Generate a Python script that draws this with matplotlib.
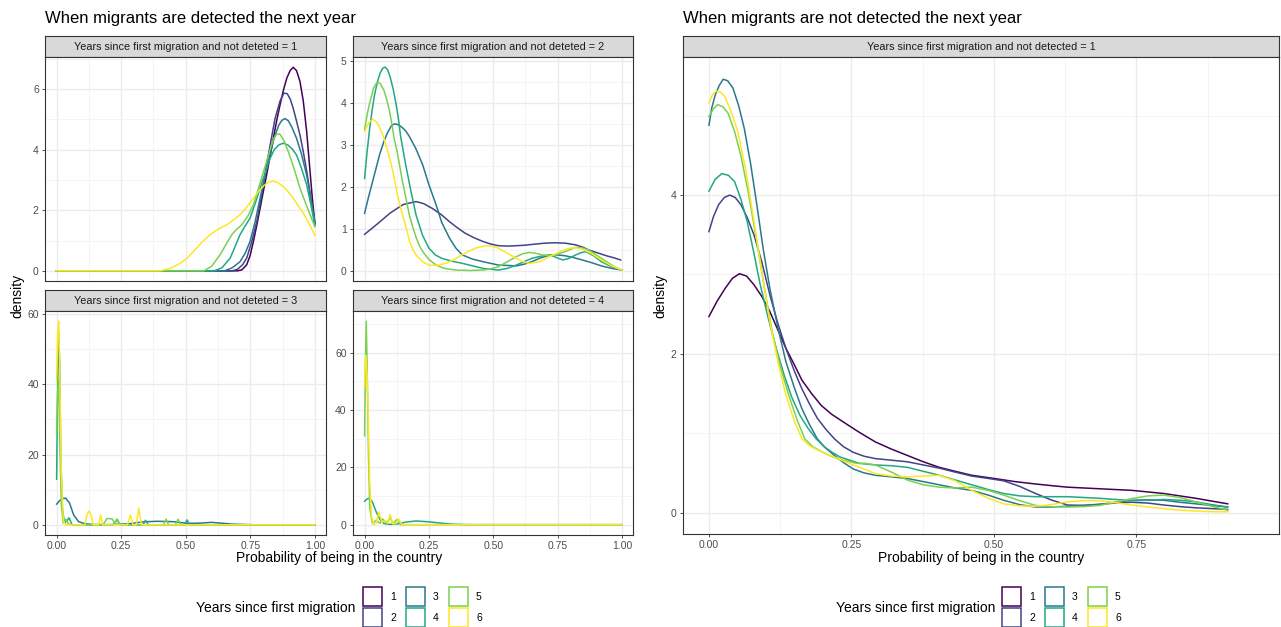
import matplotlib
matplotlib.use("Agg")
import matplotlib.pyplot as plt
from matplotlib.patches import Rectangle

plt.rcParams['font.family'] = ['Liberation Sans', 'DejaVu Sans']

W, H = 1281, 627

groups = ['1', '2', '3', '4', '5', '6']
colors = ['#440154', '#414487', '#2A788E', '#22A884', '#7AD151', '#FDE725']

left_title = "When migrants are detected the next year"
right_title = "When migrants are not detected the next year"
strip_left = ["Years since first migration and not deteted = 1",
              "Years since first migration and not deteted = 2",
              "Years since first migration and not deteted = 3",
              "Years since first migration and not deteted = 4"]
strip_right = "Years since first migration and not detected = 1"
xlab = "Probability of being in the country"
ylab = "density"
legend_title = "Years since first migration"

# ---- detected, not deteted = 1
d1_x1 = [0, 0.70, 0.717, 0.736, 0.749, 0.762, 0.775, 0.788, 0.80, 0.813, 0.826, 0.839, 0.852, 0.865, 0.878, 0.891, 0.904, 0.916, 0.929, 0.942, 0.955, 0.968, 0.98, 0.99, 1.0]
d1_y1 = [0, 0, 0.03, 0.2, 0.5, 0.97, 1.5, 2.07, 2.6, 3.16, 3.75, 4.37, 4.95, 5.47, 5.95, 6.35, 6.6, 6.71, 6.6, 6.25, 5.6, 4.6, 3.4, 2.4, 1.55]
d1_x2 = [0, 0.68, 0.70, 0.72, 0.736, 0.755, 0.775, 0.795, 0.813, 0.83, 0.846, 0.865, 0.88, 0.893, 0.905, 0.916, 0.93, 0.943, 0.955, 0.97, 0.985, 1.0]
d1_y2 = [0, 0, 0.05, 0.2, 0.42, 0.95, 1.63, 2.55, 3.5, 4.3, 5.03, 5.6, 5.86, 5.84, 5.65, 5.36, 4.9, 4.45, 3.93, 3.2, 2.35, 1.55]
d1_x3 = [0, 0.65, 0.68, 0.71, 0.73, 0.749, 0.768, 0.788, 0.807, 0.826, 0.843, 0.86, 0.872, 0.884, 0.897, 0.91, 0.929, 0.948, 0.968, 0.984, 1.0]
d1_y3 = [0, 0, 0.1, 0.3, 0.58, 0.97, 1.6, 2.4, 3.15, 3.82, 4.4, 4.8, 4.96, 5.02, 4.95, 4.75, 4.37, 3.85, 3.16, 2.4, 1.6]
d1_x4 = [0, 0.61, 0.64, 0.672, 0.69, 0.71, 0.73, 0.749, 0.768, 0.788, 0.807, 0.826, 0.843, 0.86, 0.878, 0.895, 0.912, 0.929, 0.948, 0.968, 0.984, 1.0]
d1_y4 = [0, 0, 0.1, 0.42, 0.78, 1.19, 1.48, 1.74, 2.2, 2.73, 3.22, 3.7, 4.0, 4.15, 4.21, 4.15, 4.02, 3.82, 3.38, 2.84, 2.2, 1.5]
d1_x5 = [0, 0.57, 0.60, 0.633, 0.655, 0.678, 0.697, 0.717, 0.74, 0.762, 0.788, 0.813, 0.828, 0.84, 0.853, 0.865, 0.88, 0.897, 0.92, 0.942, 0.97, 1.0]
d1_y5 = [0, 0, 0.15, 0.53, 0.86, 1.19, 1.37, 1.52, 1.8, 2.18, 2.9, 3.6, 4.05, 4.35, 4.52, 4.5, 4.3, 3.93, 3.35, 2.73, 2.1, 1.45]
d1_x6 = [0, 0.40, 0.44, 0.479, 0.505, 0.53, 0.56, 0.594, 0.625, 0.659, 0.685, 0.71, 0.736, 0.762, 0.782, 0.801, 0.82, 0.839, 0.858, 0.878, 0.897, 0.916, 0.935, 0.955, 0.978, 1.0]
d1_y6 = [0, 0, 0.08, 0.25, 0.42, 0.64, 0.92, 1.19, 1.37, 1.52, 1.68, 1.85, 2.1, 2.4, 2.62, 2.8, 2.92, 2.96, 2.9, 2.78, 2.6, 2.4, 2.15, 1.9, 1.55, 1.17]

# ---- detected, not deteted = 2
d2_x2 = [0, 0.05, 0.1, 0.15, 0.2, 0.23, 0.265, 0.3, 0.33, 0.36, 0.39, 0.425, 0.46, 0.49, 0.52, 0.555, 0.59, 0.62, 0.65, 0.7, 0.74, 0.78, 0.82, 0.85, 0.87, 0.9, 0.94, 0.97, 0.995]
d2_y2 = [0.87, 1.12, 1.38, 1.58, 1.65, 1.6, 1.48, 1.33, 1.17, 1.03, 0.9, 0.79, 0.7, 0.64, 0.6, 0.59, 0.6, 0.61, 0.63, 0.66, 0.67, 0.66, 0.62, 0.56, 0.5, 0.44, 0.36, 0.31, 0.26]
d2_x3 = [0, 0.015, 0.03, 0.045, 0.058, 0.075, 0.09, 0.104, 0.116, 0.13, 0.145, 0.16, 0.174, 0.2, 0.226, 0.25, 0.278, 0.3, 0.33, 0.355, 0.38, 0.42, 0.46, 0.52, 0.59, 0.62, 0.65, 0.68, 0.72, 0.75, 0.78, 0.81, 0.846, 0.88, 0.92, 0.96, 1.0]
d2_y3 = [1.37, 1.75, 2.1, 2.45, 2.76, 3.08, 3.3, 3.45, 3.5, 3.48, 3.42, 3.33, 3.2, 2.9, 2.52, 2.05, 1.57, 1.15, 0.78, 0.54, 0.38, 0.28, 0.22, 0.14, 0.12, 0.16, 0.22, 0.3, 0.38, 0.38, 0.36, 0.32, 0.26, 0.2, 0.12, 0.06, 0.02]
d2_x4 = [0, 0.01, 0.02, 0.03, 0.039, 0.05, 0.06, 0.07, 0.08, 0.09, 0.1, 0.112, 0.123, 0.132, 0.14, 0.15, 0.16, 0.18, 0.2, 0.225, 0.25, 0.275, 0.30, 0.34, 0.38, 0.42, 0.46, 0.52, 0.555, 0.59, 0.62, 0.65, 0.685, 0.72, 0.745, 0.77, 0.795, 0.82, 0.84, 0.86, 0.89, 0.92, 0.96, 1.0]
d2_y4 = [2.2, 2.85, 3.4, 3.85, 4.2, 4.5, 4.7, 4.82, 4.85, 4.78, 4.6, 4.3, 3.95, 3.6, 3.2, 2.86, 2.52, 1.9, 1.33, 0.85, 0.54, 0.38, 0.30, 0.23, 0.18, 0.12, 0.06, 0.02, 0.06, 0.14, 0.22, 0.30, 0.35, 0.38, 0.32, 0.26, 0.3, 0.38, 0.43, 0.46, 0.36, 0.22, 0.1, 0.02]
d2_x5 = [0, 0.01, 0.02, 0.035, 0.044, 0.052, 0.062, 0.075, 0.086, 0.097, 0.106, 0.115, 0.126, 0.136, 0.145, 0.155, 0.165, 0.174, 0.187, 0.2, 0.213, 0.226, 0.25, 0.278, 0.31, 0.355, 0.41, 0.46, 0.49, 0.52, 0.555, 0.59, 0.615, 0.64, 0.665, 0.69, 0.715, 0.74, 0.78, 0.82, 0.845, 0.87, 0.905, 0.94, 0.97, 1.0]
d2_y5 = [3.36, 3.72, 4.0, 4.35, 4.45, 4.49, 4.45, 4.3, 4.08, 3.8, 3.5, 3.15, 2.85, 2.52, 2.2, 1.9, 1.6, 1.33, 1.05, 0.8, 0.6, 0.46, 0.27, 0.14, 0.06, 0.02, 0.01, 0.02, 0.05, 0.1, 0.22, 0.34, 0.41, 0.44, 0.42, 0.38, 0.37, 0.38, 0.46, 0.56, 0.55, 0.5, 0.36, 0.22, 0.1, 0.02]
d2_x6 = [0, 0.016, 0.032, 0.05, 0.071, 0.09, 0.1, 0.11, 0.12, 0.13, 0.142, 0.155, 0.165, 0.175, 0.187, 0.2, 0.225, 0.25, 0.28, 0.317, 0.35, 0.39, 0.43, 0.47, 0.495, 0.52, 0.555, 0.59, 0.615, 0.64, 0.68, 0.72, 0.76, 0.795, 0.82, 0.846, 0.88, 0.92, 0.96, 1.0]
d2_y6 = [3.32, 3.52, 3.61, 3.52, 3.24, 2.85, 2.62, 2.37, 2.06, 1.75, 1.45, 1.17, 0.94, 0.7, 0.52, 0.38, 0.22, 0.14, 0.13, 0.18, 0.28, 0.42, 0.54, 0.6, 0.59, 0.54, 0.42, 0.30, 0.22, 0.18, 0.22, 0.34, 0.46, 0.54, 0.55, 0.52, 0.42, 0.26, 0.12, 0.02]

# ---- detected, not deteted = 3
d3_x3 = [0, 0.012, 0.025, 0.035, 0.05, 0.066, 0.085, 0.11, 0.14, 0.2, 0.28, 0.32, 0.35, 0.39, 0.45, 0.51, 0.56, 0.6, 0.68, 0.77, 1.0]
d3_y3 = [5.9, 6.9, 7.5, 7.6, 6.2, 2.8, 0.9, 0.3, 0.1, 0.05, 0.3, 0.7, 0.9, 1.0, 0.9, 0.4, 0.5, 0.7, 0.2, 0.0, 0.0]
d3_x4 = [0, 0.004, 0.008, 0.012, 0.016, 0.022, 0.03, 0.04, 0.048, 0.06, 0.22, 0.234, 0.245, 0.335, 0.344, 0.355, 0.495, 0.505, 0.515, 1.0]
d3_y4 = [13, 40, 55, 45, 20, 5, 0.5, 1.2, 2.0, 0, 0, 1.6, 0, 0, 1.3, 0, 0, 1.4, 0, 0]
d3_x5 = [0, 0.004, 0.008, 0.012, 0.018, 0.025, 0.035, 0.045, 0.06, 0.18, 0.195, 0.215, 0.225, 0.235, 0.245, 0.414, 0.424, 0.434, 0.46, 0.47, 0.48, 1.0]
d3_y5 = [26, 38, 41, 25, 6, 0.5, 1.6, 0.3, 0, 0, 1.8, 1.7, 0.4, 1.5, 0, 0, 1.6, 0, 0, 1.6, 0, 0]
d3_x6 = [0, 0.004, 0.008, 0.012, 0.018, 0.026, 0.035, 0.11, 0.118, 0.125, 0.133, 0.142, 0.163, 0.17, 0.178, 0.274, 0.286, 0.296, 0.308, 0.318, 0.328, 1.0]
d3_y6 = [41, 55, 58, 45, 15, 1, 0, 0, 3.0, 3.9, 3.0, 0, 0, 2.8, 0, 0, 2.8, 0, 0, 4.7, 0, 0]

# ---- detected, not deteted = 4
d4_x4 = [0, 0.01, 0.02, 0.03, 0.045, 0.06, 0.075, 0.1, 0.13, 0.16, 0.2, 0.25, 0.3, 0.35, 0.4, 1.0]
d4_y4 = [8.2, 9.0, 9.2, 8.0, 4.5, 1.8, 0.4, 0.1, 0.3, 0.9, 1.3, 1.0, 0.5, 0.15, 0.02, 0]
d4_x5 = [0, 0.003, 0.0065, 0.01, 0.015, 0.02, 0.03, 0.045, 0.06, 0.07, 0.085, 0.1, 0.11, 0.125, 0.14, 1.0]
d4_y5 = [31, 55, 71, 55, 25, 6, 0.5, 1.5, 0.5, 2.0, 0.5, 2.5, 0.3, 1.8, 0, 0]
d4_x6 = [0, 0.003, 0.005, 0.01, 0.015, 0.02, 0.027, 0.035, 0.045, 0.056, 0.068, 0.08, 0.09, 0.099, 0.11, 0.122, 0.132, 0.145, 1.0]
d4_y6 = [48, 57, 59, 52, 35, 15, 3, 0, 0.5, 4.4, 0.8, 1.5, 0.5, 3.6, 0.3, 0.5, 2.1, 0, 0]

# ---- not detected, not detected = 1
n_x1 = [0, 0.014, 0.028, 0.041, 0.0535, 0.066, 0.079, 0.093, 0.107, 0.121, 0.135, 0.15, 0.163, 0.18, 0.197, 0.215, 0.236, 0.264, 0.292, 0.32, 0.348, 0.376, 0.404, 0.432, 0.461, 0.5, 0.537, 0.573, 0.6, 0.629, 0.685, 0.742, 0.77, 0.798, 0.826, 0.854, 0.882, 0.91]
n_y1 = [2.47, 2.66, 2.82, 2.95, 3.01, 2.98, 2.87, 2.72, 2.53, 2.3, 2.07, 1.86, 1.67, 1.5, 1.35, 1.24, 1.14, 1.01, 0.89, 0.8, 0.72, 0.64, 0.57, 0.52, 0.47, 0.43, 0.39, 0.36, 0.34, 0.32, 0.3, 0.28, 0.26, 0.24, 0.21, 0.18, 0.145, 0.11]
n_x2 = [0, 0.008, 0.017, 0.027, 0.0365, 0.046, 0.056, 0.067, 0.079, 0.093, 0.107, 0.121, 0.135, 0.15, 0.163, 0.177, 0.19, 0.205, 0.22, 0.236, 0.253, 0.272, 0.292, 0.32, 0.348, 0.376, 0.404, 0.432, 0.461, 0.49, 0.517, 0.545, 0.573, 0.6, 0.629, 0.657, 0.685, 0.713, 0.742, 0.77, 0.798, 0.826, 0.854, 0.882, 0.91]
n_y2 = [3.54, 3.73, 3.88, 3.97, 4.0, 3.97, 3.88, 3.72, 3.5, 3.15, 2.74, 2.38, 2.07, 1.78, 1.56, 1.36, 1.19, 1.05, 0.93, 0.83, 0.76, 0.71, 0.68, 0.66, 0.64, 0.6, 0.56, 0.51, 0.46, 0.43, 0.40, 0.33, 0.24, 0.16, 0.095, 0.09, 0.105, 0.12, 0.13, 0.12, 0.095, 0.075, 0.06, 0.05, 0.04]
n_x3 = [0, 0.005, 0.011, 0.018, 0.025, 0.033, 0.042, 0.052, 0.062, 0.073, 0.084, 0.095, 0.107, 0.121, 0.135, 0.15, 0.163, 0.177, 0.19, 0.205, 0.22, 0.236, 0.253, 0.272, 0.292, 0.32, 0.348, 0.376, 0.404, 0.432, 0.461, 0.49, 0.517, 0.545, 0.573, 0.6, 0.629, 0.657, 0.685, 0.713, 0.742, 0.77, 0.798, 0.826, 0.854, 0.882, 0.91]
n_y3 = [4.88, 5.1, 5.26, 5.38, 5.46, 5.44, 5.35, 5.13, 4.84, 4.4, 3.88, 3.33, 2.82, 2.33, 1.9, 1.57, 1.31, 1.1, 0.93, 0.81, 0.72, 0.63, 0.55, 0.5, 0.47, 0.45, 0.43, 0.39, 0.35, 0.31, 0.28, 0.22, 0.155, 0.1, 0.07, 0.07, 0.08, 0.09, 0.10, 0.13, 0.155, 0.16, 0.155, 0.13, 0.11, 0.09, 0.07]
n_x4 = [0, 0.011, 0.0225, 0.034, 0.045, 0.056, 0.067, 0.078, 0.09, 0.104, 0.118, 0.132, 0.146, 0.16, 0.174, 0.188, 0.202, 0.216, 0.23, 0.247, 0.264, 0.292, 0.32, 0.348, 0.376, 0.404, 0.432, 0.461, 0.49, 0.517, 0.545, 0.573, 0.629, 0.685, 0.742, 0.77, 0.798, 0.826, 0.854, 0.882, 0.91]
n_y4 = [4.05, 4.2, 4.27, 4.25, 4.17, 3.95, 3.67, 3.3, 2.87, 2.45, 2.07, 1.73, 1.44, 1.22, 1.06, 0.93, 0.83, 0.76, 0.70, 0.66, 0.62, 0.60, 0.59, 0.57, 0.52, 0.47, 0.41, 0.35, 0.29, 0.24, 0.21, 0.20, 0.20, 0.18, 0.15, 0.155, 0.165, 0.155, 0.135, 0.1, 0.07]
n_x5 = [0, 0.008, 0.0157, 0.025, 0.0337, 0.045, 0.056, 0.07, 0.084, 0.098, 0.112, 0.126, 0.14, 0.154, 0.168, 0.182, 0.197, 0.211, 0.225, 0.242, 0.259, 0.275, 0.292, 0.32, 0.348, 0.376, 0.404, 0.432, 0.461, 0.49, 0.517, 0.545, 0.573, 0.6, 0.629, 0.657, 0.685, 0.713, 0.742, 0.77, 0.798, 0.826, 0.854, 0.882, 0.91]
n_y5 = [4.99, 5.09, 5.14, 5.11, 5.03, 4.8, 4.5, 4.0, 3.41, 2.8, 2.24, 1.82, 1.48, 1.18, 0.93, 0.83, 0.77, 0.72, 0.68, 0.65, 0.62, 0.62, 0.60, 0.51, 0.41, 0.35, 0.32, 0.31, 0.32, 0.28, 0.22, 0.15, 0.09, 0.075, 0.07, 0.075, 0.09, 0.13, 0.176, 0.21, 0.22, 0.19, 0.135, 0.08, 0.03]
n_x6 = [0, 0.006, 0.0124, 0.02, 0.028, 0.039, 0.0506, 0.065, 0.079, 0.093, 0.107, 0.121, 0.135, 0.15, 0.163, 0.177, 0.19, 0.205, 0.22, 0.236, 0.253, 0.272, 0.292, 0.32, 0.348, 0.376, 0.404, 0.432, 0.461, 0.49, 0.517, 0.545, 0.573, 0.6, 0.629, 0.657, 0.685, 0.713, 0.742, 0.77, 0.798, 0.826, 0.854, 0.882, 0.91]
n_y6 = [5.16, 5.26, 5.31, 5.3, 5.24, 5.05, 4.80, 4.3, 3.67, 3.02, 2.40, 1.9, 1.48, 1.15, 0.93, 0.84, 0.79, 0.74, 0.70, 0.65, 0.60, 0.55, 0.49, 0.46, 0.45, 0.46, 0.47, 0.4, 0.28, 0.18, 0.11, 0.085, 0.08, 0.1, 0.135, 0.15, 0.15, 0.125, 0.095, 0.07, 0.05, 0.03, 0.02, 0.012, 0.01]


def frac(x0, y0, x1, y1):
    return [x0 / W, 1 - y1 / H, (x1 - x0) / W, (y1 - y0) / H]


def panel(fig, box, xlim, ylim, yticks, ymin, xlabels, curves):
    ax = fig.add_axes(frac(*box))
    for g, x, y in curves:
        ax.plot(x, y, color=colors[g - 1], lw=1.1, zorder=3)
    ax.set_xlim(*xlim)
    ax.set_ylim(*ylim)
    ax.set_yticks(yticks)
    ax.set_yticks(ymin, minor=True)
    ax.set_xticks([0, 0.25, 0.5, 0.75, 1.0])
    ax.set_xticks([0.125, 0.375, 0.625, 0.875], minor=True)
    ax.grid(True, which='major', color='#EBEBEB', lw=1.0, zorder=0)
    ax.grid(True, which='minor', color='#F2F2F2', lw=0.6, zorder=0)
    ax.tick_params(which='minor', length=0)
    ax.tick_params(which='major', length=2.5, width=0.6, color='#333333',
                   labelsize=7.5, labelcolor='#4D4D4D', pad=2)
    ax.set_yticklabels([str(t) for t in yticks])
    if xlabels:
        ax.set_xticklabels(['0.00', '0.25', '0.50', '0.75', '1.00'])
    else:
        ax.tick_params(axis='x', length=0, labelbottom=False)
    for s in ax.spines.values():
        s.set_color('#333333')
        s.set_linewidth(0.8)
    return ax


def strip(fig, box, text):
    ax = fig.add_axes(frac(*box))
    ax.set_facecolor('#D9D9D9')
    ax.set_xticks([])
    ax.set_yticks([])
    for s in ax.spines.values():
        s.set_color('#333333')
        s.set_linewidth(0.8)
    ax.text(0.5, 0.5, text, ha='center', va='center', fontsize=7.8,
            color='#1A1A1A', transform=ax.transAxes)


def legend(fig, title_right, key_x):
    fig.text(title_right / W, 1 - 608 / H, legend_title, ha='right', va='center',
             fontsize=10, color='black')
    for i, g in enumerate(groups):
        col, row = i // 2, i % 2
        x0 = key_x + col * 43
        y0 = 587 + row * 21
        fig.patches.append(Rectangle((x0 / W, 1 - (y0 + 19) / H), 19 / W, 19 / H,
                                     transform=fig.transFigure, fill=False,
                                     edgecolor=colors[i], lw=1.1))
        fig.text((x0 + 27) / W, 1 - (y0 + 10) / H, g, ha='left', va='center',
                 fontsize=7.5, color='black')


fig = plt.figure(figsize=(W / 100, H / 100), dpi=100)
fig.patch.set_facecolor('white')

xl = (-0.045, 1.043)

# left block
fig.text(45 / W, 1 - 19 / H, left_title, ha='left', va='center', fontsize=12)
strip(fig, (45, 36, 326, 57), strip_left[0])
strip(fig, (353, 36, 633, 57), strip_left[1])
strip(fig, (45, 290, 326, 311), strip_left[2])
strip(fig, (353, 290, 633, 311), strip_left[3])

panel(fig, (45, 57, 326, 281), xl, (-0.335, 7.05), [0, 2, 4, 6], [1, 3, 5, 7], False,
      [(1, d1_x1, d1_y1), (2, d1_x2, d1_y2), (3, d1_x3, d1_y3),
       (4, d1_x4, d1_y4), (5, d1_x5, d1_y5), (6, d1_x6, d1_y6)])
panel(fig, (353, 57, 633, 281), xl, (-0.24, 5.09), [0, 1, 2, 3, 4, 5],
      [0.5, 1.5, 2.5, 3.5, 4.5], False,
      [(2, d2_x2, d2_y2), (3, d2_x3, d2_y3), (4, d2_x4, d2_y4),
       (5, d2_x5, d2_y5), (6, d2_x6, d2_y6)])
panel(fig, (45, 311, 326, 535), xl, (-2.9, 60.9), [0, 20, 40, 60], [10, 30, 50], True,
      [(3, d3_x3, d3_y3), (4, d3_x4, d3_y4), (5, d3_x5, d3_y5), (6, d3_x6, d3_y6)])
panel(fig, (353, 311, 633, 535), xl, (-3.6, 74.6), [0, 20, 40, 60], [10, 30, 50, 70], True,
      [(4, d4_x4, d4_y4), (5, d4_x5, d4_y5), (6, d4_x6, d4_y6)])

fig.text(339 / W, 1 - 558 / H, xlab, ha='center', va='center', fontsize=10)
fig.text(17 / W, 1 - 296 / H, ylab, ha='center', va='center', rotation=90, fontsize=10)
legend(fig, 355, 363)

# right block
fig.text(683 / W, 1 - 19 / H, right_title, ha='left', va='center', fontsize=12)
strip(fig, (683, 36, 1279, 57), strip_right)
ax = panel(fig, (683, 57, 1279, 534), (-0.0455, 0.959), (-0.27, 5.74), [0, 2, 4], [1, 3, 5],
           True,
           [(1, n_x1, n_y1), (2, n_x2, n_y2), (3, n_x3, n_y3),
            (4, n_x4, n_y4), (5, n_x5, n_y5), (6, n_x6, n_y6)])
ax.set_xticks([0, 0.25, 0.5, 0.75])
ax.set_xticklabels(['0.00', '0.25', '0.50', '0.75'])
ax.set_xticks([0.125, 0.375, 0.625, 0.875], minor=True)

fig.text(981 / W, 1 - 558 / H, xlab, ha='center', va='center', fontsize=10)
fig.text(660 / W, 1 - 296 / H, ylab, ha='center', va='center', rotation=90, fontsize=10)
legend(fig, 995, 1002)

fig.savefig('out.png', dpi=100, facecolor='white')
